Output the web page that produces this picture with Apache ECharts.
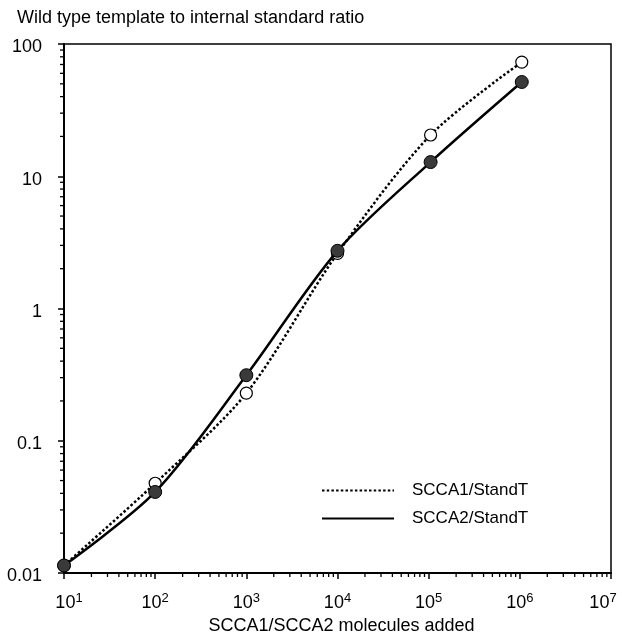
<!DOCTYPE html>
<html>
<head>
<meta charset="utf-8">
<script src="https://cdn.jsdelivr.net/npm/echarts@6/dist/echarts.min.js"></script>
<style>
  html, body { margin: 0; padding: 0; background: #ffffff; }
  #chart { width: 622px; height: 637px; }
</style>
</head>
<body>
<div id="chart"></div>
<script>
// molecules added (x) and ratios (y)
const molecules = [1e1, 1e2, 1e3, 1e4, 1.05e5, 1.05e6]
const scca1 = [0.0114, 0.0477, 0.229, 2.61, 20.5, 73]
const scca2 = [0.0114, 0.041, 0.313, 2.73, 12.8, 51.6]

// tick labels
const yTickLabels = ['0.01', '0.1', '1', '10', '100']
const xExponents = [1, 2, 3, 4, 5, 6, 7]

// minor ticks at 2..9 of every decade
const xMinor = []
for (let e = 1; e < 7; e++) {
  for (let k = 2; k <= 9; k++) xMinor.push(k * Math.pow(10, e))
}
const yMinor = []
for (let e = -2; e < 2; e++) {
  for (let k = 2; k <= 9; k++) yMinor.push(+(k * Math.pow(10, e)).toPrecision(3))
}

const font = '"Liberation Sans", Arial, sans-serif'
const chart = echarts.init(document.getElementById('chart'))

const minorTick = (horizontal) => (params, api) => {
  const p = api.coord([api.value(0), api.value(1)])
  return {
    type: 'line',
    shape: horizontal
      ? { x1: p[0], y1: p[1], x2: p[0], y2: p[1] + 4 }
      : { x1: p[0] - 4, y1: p[1], x2: p[0], y2: p[1] },
    style: { stroke: '#000', lineWidth: 1.3 }
  }
}

// 10^n label, first one nudged right and last one pulled in
const xLabel = (v) => {
  const i = Math.round(Math.log10(v)) - 1
  const e = xExponents[i]
  if (i === 0) return '{first|10}{sup|' + e + '}'
  if (i === xExponents.length - 1) return '10{last|' + e + '}'
  return '10{sup|' + e + '}'
}

chart.setOption({
  animation: false,
  backgroundColor: '#ffffff',
  title: {
    text: 'Wild type template to internal standard ratio',
    left: 12,
    top: 4,
    textStyle: { fontFamily: font, fontSize: 18, fontWeight: 'normal', color: '#000' }
  },
  grid: {
    show: true,
    left: 64,
    right: 11,
    top: 44,
    bottom: 64,
    outerBoundsMode: 'none',
    borderColor: '#000',
    borderWidth: 1.5,
    backgroundColor: 'transparent'
  },
  legend: {
    orient: 'vertical',
    left: 316,
    top: 477,
    itemWidth: 72,
    itemHeight: 14,
    itemGap: 11,
    data: ['SCCA1/StandT', 'SCCA2/StandT'],
    itemStyle: { opacity: 0 },
    textStyle: { fontFamily: font, fontSize: 17, color: '#000', padding: [0, 0, 0, 13] }
  },
  xAxis: {
    type: 'log',
    logBase: 10,
    min: 10,
    max: 1e7,
    name: 'SCCA1/SCCA2 molecules added',
    nameLocation: 'middle',
    nameGap: 44,
    nameTextStyle: { fontFamily: font, fontSize: 18, color: '#000', padding: [0, 0, 0, 8] },
    axisLine: { lineStyle: { color: '#000', width: 2 } },
    axisTick: { show: true, length: 6, lineStyle: { color: '#000', width: 1.5 } },
    splitLine: { show: false },
    axisLabel: {
      margin: 19,
      fontFamily: font,
      fontSize: 18,
      color: '#000',
      formatter: xLabel,
      rich: {
        first: { fontFamily: font, fontSize: 18, color: '#000', padding: [0, 0, 0, 10] },
        sup: { fontFamily: font, fontSize: 13, color: '#000', verticalAlign: 'top', padding: [0, 0, 9, 0] },
        last: { fontFamily: font, fontSize: 13, color: '#000', verticalAlign: 'top', padding: [0, 16, 9, 0] }
      }
    }
  },
  yAxis: {
    type: 'log',
    logBase: 10,
    min: 0.01,
    max: 100,
    axisLine: { lineStyle: { color: '#000', width: 2 } },
    axisTick: { show: true, length: 6, lineStyle: { color: '#000', width: 1.5 } },
    splitLine: { show: false },
    axisLabel: {
      margin: 22,
      color: '#000',
      formatter: v => '{n|' + yTickLabels[Math.round(Math.log10(v)) + 2] + '}',
      rich: {
        n: { fontFamily: font, fontSize: 18, color: '#000', padding: [7, 0, 0, 0] }
      }
    }
  },
  series: [
    {
      name: 'x minor ticks',
      type: 'custom',
      clip: false,
      silent: true,
      renderItem: minorTick(true),
      data: xMinor.map(v => [v, 0.01]),
      z: 5
    },
    {
      name: 'y minor ticks',
      type: 'custom',
      clip: false,
      silent: true,
      renderItem: minorTick(false),
      data: yMinor.map(v => [10, v]),
      z: 5
    },
    {
      name: 'SCCA1/StandT',
      type: 'line',
      smooth: 0.3,
      data: molecules.map((m, i) => [m, scca1[i]]),
      symbol: 'circle',
      symbolSize: 12,
      lineStyle: { color: '#000', width: 2.5, type: [2.5, 2.2] },
      itemStyle: { color: '#ffffff', borderColor: '#000', borderWidth: 1.2 },
      z: 3
    },
    {
      name: 'SCCA2/StandT',
      type: 'line',
      smooth: 0.3,
      data: molecules.map((m, i) => [m, scca2[i]]),
      symbol: 'circle',
      symbolSize: 13,
      lineStyle: { color: '#000', width: 2.5 },
      itemStyle: { color: '#3a3a3a', borderColor: '#000', borderWidth: 1 },
      z: 4
    }
  ]
})
</script>
</body>
</html>
